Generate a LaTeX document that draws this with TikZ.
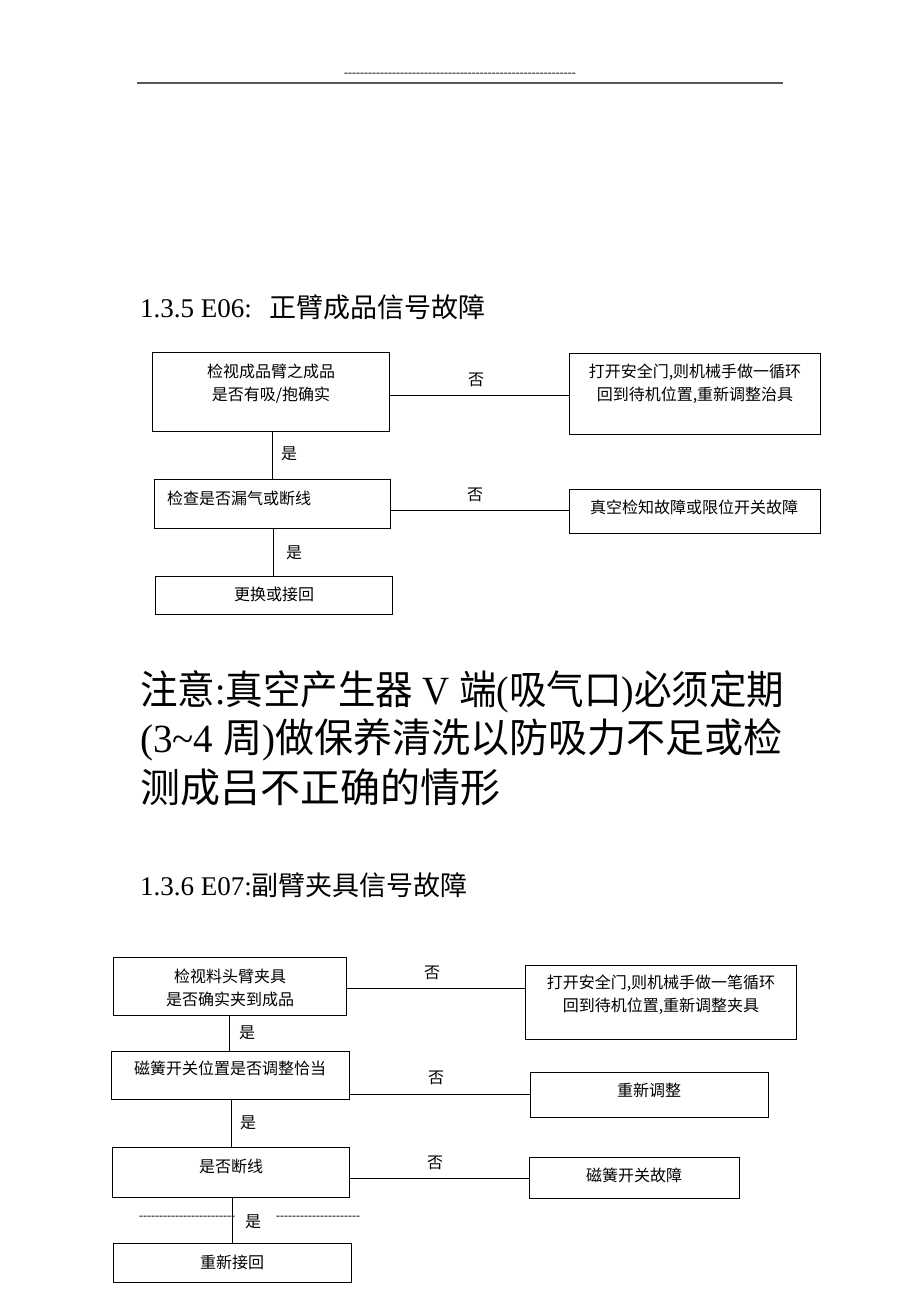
\documentclass[tikz,border=0pt]{standalone}
\usepackage{fontspec}
\usepackage{graphicx}
\setmainfont{Liberation Serif}
\newfontfamily\cjk{Noto Sans CJK SC}
\newcommand\hyphrow[1]{\foreach \i in {1,...,#1}{-\kern0pt}}
\tikzset{
  box/.style={draw, line width=0.8pt, inner sep=0pt},
  btxt/.style={font=\fontsize{16}{23}\selectfont\cjk, inner sep=0pt, align=center},
  yn/.style={font=\fontsize{16}{18}\selectfont\cjk, inner sep=0pt},
  conn/.style={line width=0.8pt},
  title/.style={font=\fontsize{27}{30}\selectfont, inner sep=0pt, anchor=west},
  note/.style={font=\fontsize{40}{44}\selectfont, inner sep=0pt, anchor=west},
  hy/.style={font=\fontsize{12}{14}\selectfont, inner sep=0pt}
}
\begin{document}
\begin{tikzpicture}[x=1pt,y=-1pt]
\useasboundingbox (0,0) rectangle (920,1302);
\fill[white] (0,0) rectangle (920,1302);

% header
\node[hy] (hdash) at (460,75) {\hyphrow{58}};
\coordinate (rl) at (137,83);
\coordinate (rr) at (783,83);
\draw[line width=1.6pt, black!65] (rl) -- (rr);

% title 1
\node[title] (t1) at (140,307) {1.3.5 E06:\ \ \,{\cjk 正臂成品信号故障}};

% diagram 1
\node[box, minimum width=237pt, minimum height=79pt] (A) at (270.5,391.5) {};
\node[btxt] (At) at (271,384) {检视成品臂之成品\\是否有吸/抱确实};
\node[box, minimum width=251pt, minimum height=81pt] (B) at (694.5,393.5) {};
\node[btxt] (Bt) at (695,384) {打开安全门,则机械手做一循环\\回到待机位置,重新调整治具};
\node[box, minimum width=236pt, minimum height=49pt] (C) at (272,503.5) {};
\node[btxt, anchor=west] (Ct) at (167,498) {检查是否漏气或断线};
\node[box, minimum width=251pt, minimum height=44pt] (D) at (694.5,511) {};
\node[btxt] (Dt) at (694,507) {真空检知故障或限位开关故障};
\node[box, minimum width=237pt, minimum height=38pt] (E) at (273.5,595) {};
\node[btxt] (Et) at (274,594) {更换或接回};

\coordinate (y1) at (0,395);
\coordinate (y2) at (0,510);
\coordinate (x1) at (272,0);
\coordinate (x2) at (273,0);
\draw[conn] (A.east |- y1) -- (B.west |- y1);
\draw[conn] (x1 |- A.south) -- (x1 |- C.north);
\draw[conn] (C.east |- y2) -- (D.west |- y2);
\draw[conn] (x2 |- C.south) -- (x2 |- E.north);
\node[yn] (n1) at (476,380) {否};
\node[yn] (s1) at (289,454) {是};
\node[yn] (n2) at (475,495) {否};
\node[yn] (s2) at (294,553) {是};

% notice
\node[note] (l1) at (140,692) {\resizebox{644pt}{\height}{{\cjk 注意}:{\cjk 真空产生器} V {\cjk 端}({\cjk 吸气口}){\cjk 必须定期}}};
\node[note] (l2) at (140,740) {\resizebox{642pt}{\height}{(3\char`\~4 {\cjk 周}){\cjk 做保养清洗以防吸力不足或检}}};
\node[note] (l3) at (140,787) {\cjk 测成吕不正确的情形};

% title 2
\node[title] (t2) at (140,885) {1.3.6 E07:{\cjk 副臂夹具信号故障}};

% diagram 2
\node[box, minimum width=233pt, minimum height=58pt] (F) at (229.5,986) {};
\node[btxt] (Ft) at (230,988) {检视料头臂夹具\\是否确实夹到成品};
\node[box, minimum width=271pt, minimum height=74pt] (G) at (660.5,1002) {};
\node[btxt] (Gt) at (661,995) {打开安全门,则机械手做一笔循环\\回到待机位置,重新调整夹具};
\node[box, minimum width=238pt, minimum height=48pt] (H) at (230,1075) {};
\node[btxt] (Ht) at (230,1068) {磁簧开关位置是否调整恰当};
\node[box, minimum width=238pt, minimum height=45pt] (I) at (649,1094.5) {};
\node[btxt] (It) at (649,1090) {重新调整};
\node[box, minimum width=237.5pt, minimum height=50pt] (J) at (231,1172) {};
\node[btxt] (Jt) at (231,1166) {是否断线};
\node[box, minimum width=210pt, minimum height=41pt] (K) at (634,1177.5) {};
\node[btxt] (Kt) at (634,1175) {磁簧开关故障};
\node[box, minimum width=238pt, minimum height=39pt] (L) at (232,1262.5) {};
\node[btxt] (Lt) at (232,1262) {重新接回};

\coordinate (y3) at (0,988);
\coordinate (y4) at (0,1094);
\coordinate (y5) at (0,1178);
\coordinate (x3) at (229,0);
\coordinate (x4) at (231,0);
\coordinate (x5) at (232,0);
\draw[conn] (F.east |- y3) -- (G.west |- y3);
\draw[conn] (x3 |- F.south) -- (x3 |- H.north);
\draw[conn] (H.east |- y4) -- (I.west |- y4);
\draw[conn] (x4 |- H.south) -- (x4 |- J.north);
\draw[conn] (J.east |- y5) -- (K.west |- y5);
\draw[conn] (x5 |- J.south) -- (x5 |- L.north);
\node[yn] (n3) at (432,973) {否};
\node[yn] (s3) at (247,1033) {是};
\node[yn] (n4) at (436,1078) {否};
\node[yn] (s4) at (248,1123) {是};
\node[yn] (n5) at (435,1163) {否};
\node[yn] (s5) at (253,1222) {是};
\node[hy, anchor=west] (hl) at (139,1218) {\hyphrow{24}};
\node[hy, anchor=west] (hr) at (276,1218) {\hyphrow{21}};
\end{tikzpicture}
\end{document}
